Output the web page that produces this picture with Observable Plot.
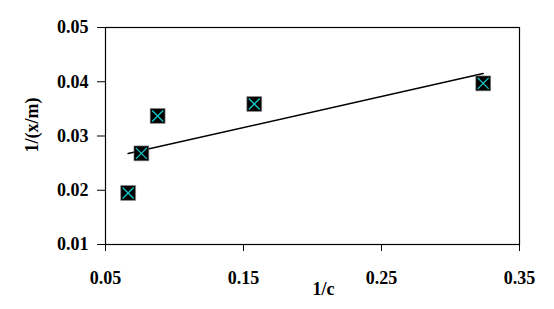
<!DOCTYPE html>
<html><head><meta charset="utf-8">
<script src="https://cdn.jsdelivr.net/npm/d3@7"></script>
<script src="https://cdn.jsdelivr.net/npm/@observablehq/plot@0.6"></script>
<style>
body{margin:0;background:#fff}
#chart [aria-label$="tick label"]{font-size:18px}
</style>
</head><body><div id="chart"></div>
<script>
const invC = [0.0664, 0.0760, 0.0878, 0.1578, 0.3237];
const invXm = [0.0195, 0.0268, 0.0337, 0.0359, 0.0397];
const xTicks = [0.05, 0.15, 0.25, 0.35];
const yTicks = [0.01, 0.02, 0.03, 0.04, 0.05];
const xLabel = "1/c";
const yLabel = "1/(x/m)";

const data = invC.map((c, i) => ({c, y: invXm[i]}));

const squareSym = {draw(ctx, size) { const h = Math.sqrt(size) / 2; ctx.rect(-h, -h, 2 * h, 2 * h); }};
const crossSym = {draw(ctx, size) { const h = Math.sqrt(size) / 2; ctx.moveTo(-h, -h); ctx.lineTo(h, h); ctx.moveTo(h, -h); ctx.lineTo(-h, h); }};

const font = "Liberation Serif, Times New Roman, serif";
const chart = Plot.plot({
  width: 554, height: 309,
  marginLeft: 105, marginRight: 35, marginTop: 27, marginBottom: 65,
  style: {fontFamily: font, fontWeight: "bold", fontSize: "18px", color: "#000", background: "#fff"},
  x: {domain: [0.05, 0.35]},
  y: {domain: [0.01, 0.05]},
  marks: [
    Plot.frame({stroke: "#000", strokeWidth: 1.2}),
    Plot.axisX({ticks: xTicks, tickFormat: d3.format(".2f"), tickSize: 7, tickPadding: 20, label: null}),
    Plot.axisY({ticks: yTicks, tickFormat: d3.format(".2f"), tickSize: 8, tickPadding: 9, label: null}),
    Plot.text([xLabel], {text: d => d, frameAnchor: "bottom", textAnchor: "middle", lineAnchor: "bottom", dx: 11, dy: 50, fontSize: 18, fontWeight: "bold"}),
    Plot.text([yLabel], {text: d => d, frameAnchor: "left", textAnchor: "middle", rotate: -90, lineAnchor: "top", dx: -80, dy: -11, fontSize: 18, fontWeight: "bold"}),
    Plot.linearRegressionY(data, {x: "c", y: "y", stroke: "#000", strokeWidth: 1.5, ci: 0}),
    Plot.dot(data, {x: "c", y: "y", symbol: squareSym, r: 8.4, fill: "#000", stroke: "#888", strokeWidth: 0.6}),
    Plot.dot(data, {x: "c", y: "y", symbol: crossSym, r: 6.2, fill: "none", stroke: "#14c8c8", strokeWidth: 1.3})
  ]
});
document.getElementById("chart").append(chart);
</script>
</body></html>
